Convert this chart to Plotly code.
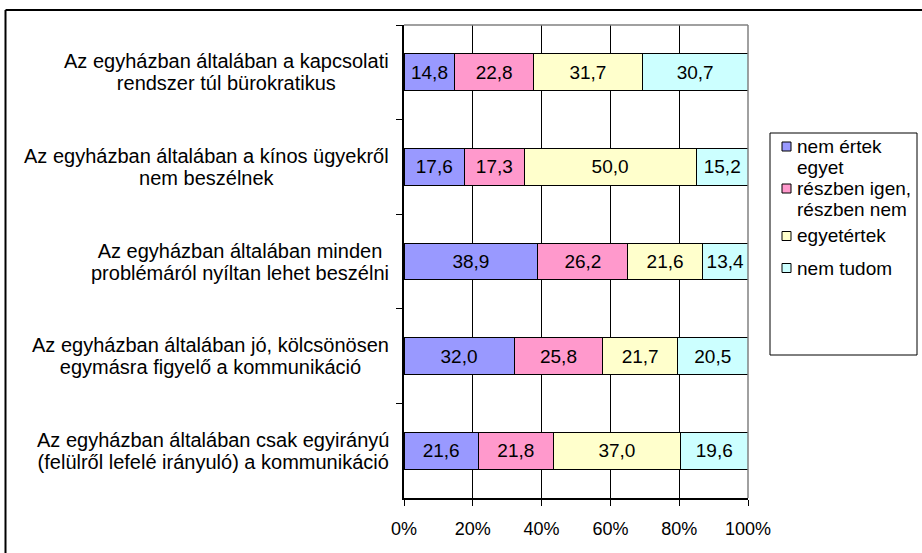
import plotly.graph_objects as go

# Survey statements (top to bottom) and answer shares in percent
statements = [
    ["Az egyházban általában a kapcsolati", "rendszer túl bürokratikus"],
    ["Az egyházban általában a kínos ügyekről", "nem beszélnek"],
    ["Az egyházban általában minden", "problémáról nyíltan lehet beszélni"],
    ["Az egyházban általában jó, kölcsönösen", "egymásra figyelő a kommunikáció"],
    ["Az egyházban általában csak egyirányú", "(felülről lefelé irányuló) a kommunikáció"],
]
series_names = ["nem értek egyet", "részben igen, részben nem", "egyetértek", "nem tudom"]
legend_lines = [["nem értek", "egyet"], ["részben igen,", "részben nem"], ["egyetértek"], ["nem tudom"]]
nem_ertek_egyet = [14.8, 17.6, 38.9, 32.0, 21.6]
reszben = [22.8, 17.3, 26.2, 25.8, 21.8]
egyetertek = [31.7, 50.0, 21.6, 21.7, 37.0]
nem_tudom = [30.7, 15.2, 13.4, 20.5, 19.6]
x_ticks = [0, 20, 40, 60, 80, 100]

colors = ["#9999FF", "#FF99CC", "#FFFFCC", "#CCFFFF"]
FONT = "Liberation Sans, Arial, sans-serif"
LABEL_FS = 20      # statement labels
LINE_FS = 17       # base size that sets the label line spacing (1.3 em)
VALUE_FS = 19
LEGEND_FS = 19
TICK_FS = 18

W, H = 922, 553
L, R, T, B = 404, 748, 25, 498  # plot area in pixels


def px_x(p):
    return (p - L) / (R - L)


def px_y(p):
    return (B - p) / (B - T)


cats = [" ".join(s) for s in statements]

fig = go.Figure()
for name, vals, col in zip(series_names, [nem_ertek_egyet, reszben, egyetertek, nem_tudom], colors):
    fig.add_trace(go.Bar(
        y=cats, x=vals, name=name, orientation="h",
        marker=dict(color=col, line=dict(color="black", width=1)),
        text=[f"{v:.1f}".replace(".", ",") for v in vals],
        textposition="inside", insidetextanchor="middle", textangle=0,
        textfont=dict(family=FONT, size=VALUE_FS, color="black"),
        showlegend=False,
    ))

annotations = []
# statement labels: block right-aligned to the axis, lines centred within
for cat, lines in zip(cats, statements):
    txt = "<br>".join(f'<span style="font-size:{LABEL_FS}px">{ln}</span>' for ln in lines)
    annotations.append(dict(
        x=0, xref="paper", y=cat, yref="y", xanchor="right", yanchor="middle",
        xshift=-13, text=txt, align="center", showarrow=False,
        font=dict(family=FONT, size=LINE_FS, color="black"),
    ))

shapes = [
    # plot area top / right border
    dict(type="line", xref="paper", yref="paper", x0=0, x1=1, y0=1, y1=1,
         line=dict(color="#808080", width=1.5)),
    dict(type="line", xref="paper", yref="paper", x0=1, x1=1, y0=0, y1=1,
         line=dict(color="#808080", width=1.5)),
    # outer chart frame
    dict(type="line", xref="paper", yref="paper", x0=px_x(5.5), x1=px_x(W + 5), y0=px_y(10), y1=px_y(10),
         line=dict(color="black", width=2)),
    dict(type="line", xref="paper", yref="paper", x0=px_x(5.5), x1=px_x(5.5), y0=px_y(10), y1=px_y(H + 5),
         line=dict(color="black", width=2)),
    # legend box
    dict(type="rect", xref="paper", yref="paper", x0=px_x(770), x1=px_x(917), y0=px_y(133), y1=px_y(355),
         line=dict(color="black", width=1), fillcolor="white"),
]

legend_y = [157, 199, 236, 268]
for lines, col, yc in zip(legend_lines, colors, legend_y):
    first_y = yc - (len(lines) - 1) * 10.5
    shapes.append(dict(type="rect", xref="paper", yref="paper",
                       x0=px_x(782), x1=px_x(791), y0=px_y(first_y - 4.5), y1=px_y(first_y + 4.5),
                       line=dict(color="black", width=1), fillcolor=col))
    for i, ln in enumerate(lines):
        annotations.append(dict(
            x=px_x(795), xref="paper", y=px_y(first_y + i * 21), yref="paper",
            xanchor="left", yanchor="middle", text=ln, showarrow=False,
            font=dict(family=FONT, size=LEGEND_FS, color="black"),
        ))

fig.update_layout(
    barmode="stack", bargap=0.61,
    width=W, height=H,
    margin=dict(l=L, r=W - R, t=T, b=H - B, pad=0),
    paper_bgcolor="white", plot_bgcolor="white",
    font=dict(family=FONT, size=TICK_FS, color="black"),
    uniformtext=dict(minsize=VALUE_FS, mode="show"),
    annotations=annotations, shapes=shapes,
    xaxis=dict(
        range=[0, 100], tickvals=x_ticks, ticktext=[f"{t}%" for t in x_ticks],
        tickfont=dict(family=FONT, size=TICK_FS, color="black"),
        showgrid=True, gridcolor="black", gridwidth=1,
        showline=True, linecolor="black", linewidth=1.5,
        ticks="outside", ticklen=6, tickcolor="black", ticklabelstandoff=8,
        zeroline=False, fixedrange=True,
    ),
    yaxis=dict(
        categoryorder="array", categoryarray=cats, autorange="reversed",
        showticklabels=False, tickson="boundaries",
        ticks="outside", ticklen=6, tickcolor="black",
        showline=True, linecolor="black", linewidth=1.5,
        showgrid=False, zeroline=False, fixedrange=True,
    ),
)

fig.write_html("out.html")
